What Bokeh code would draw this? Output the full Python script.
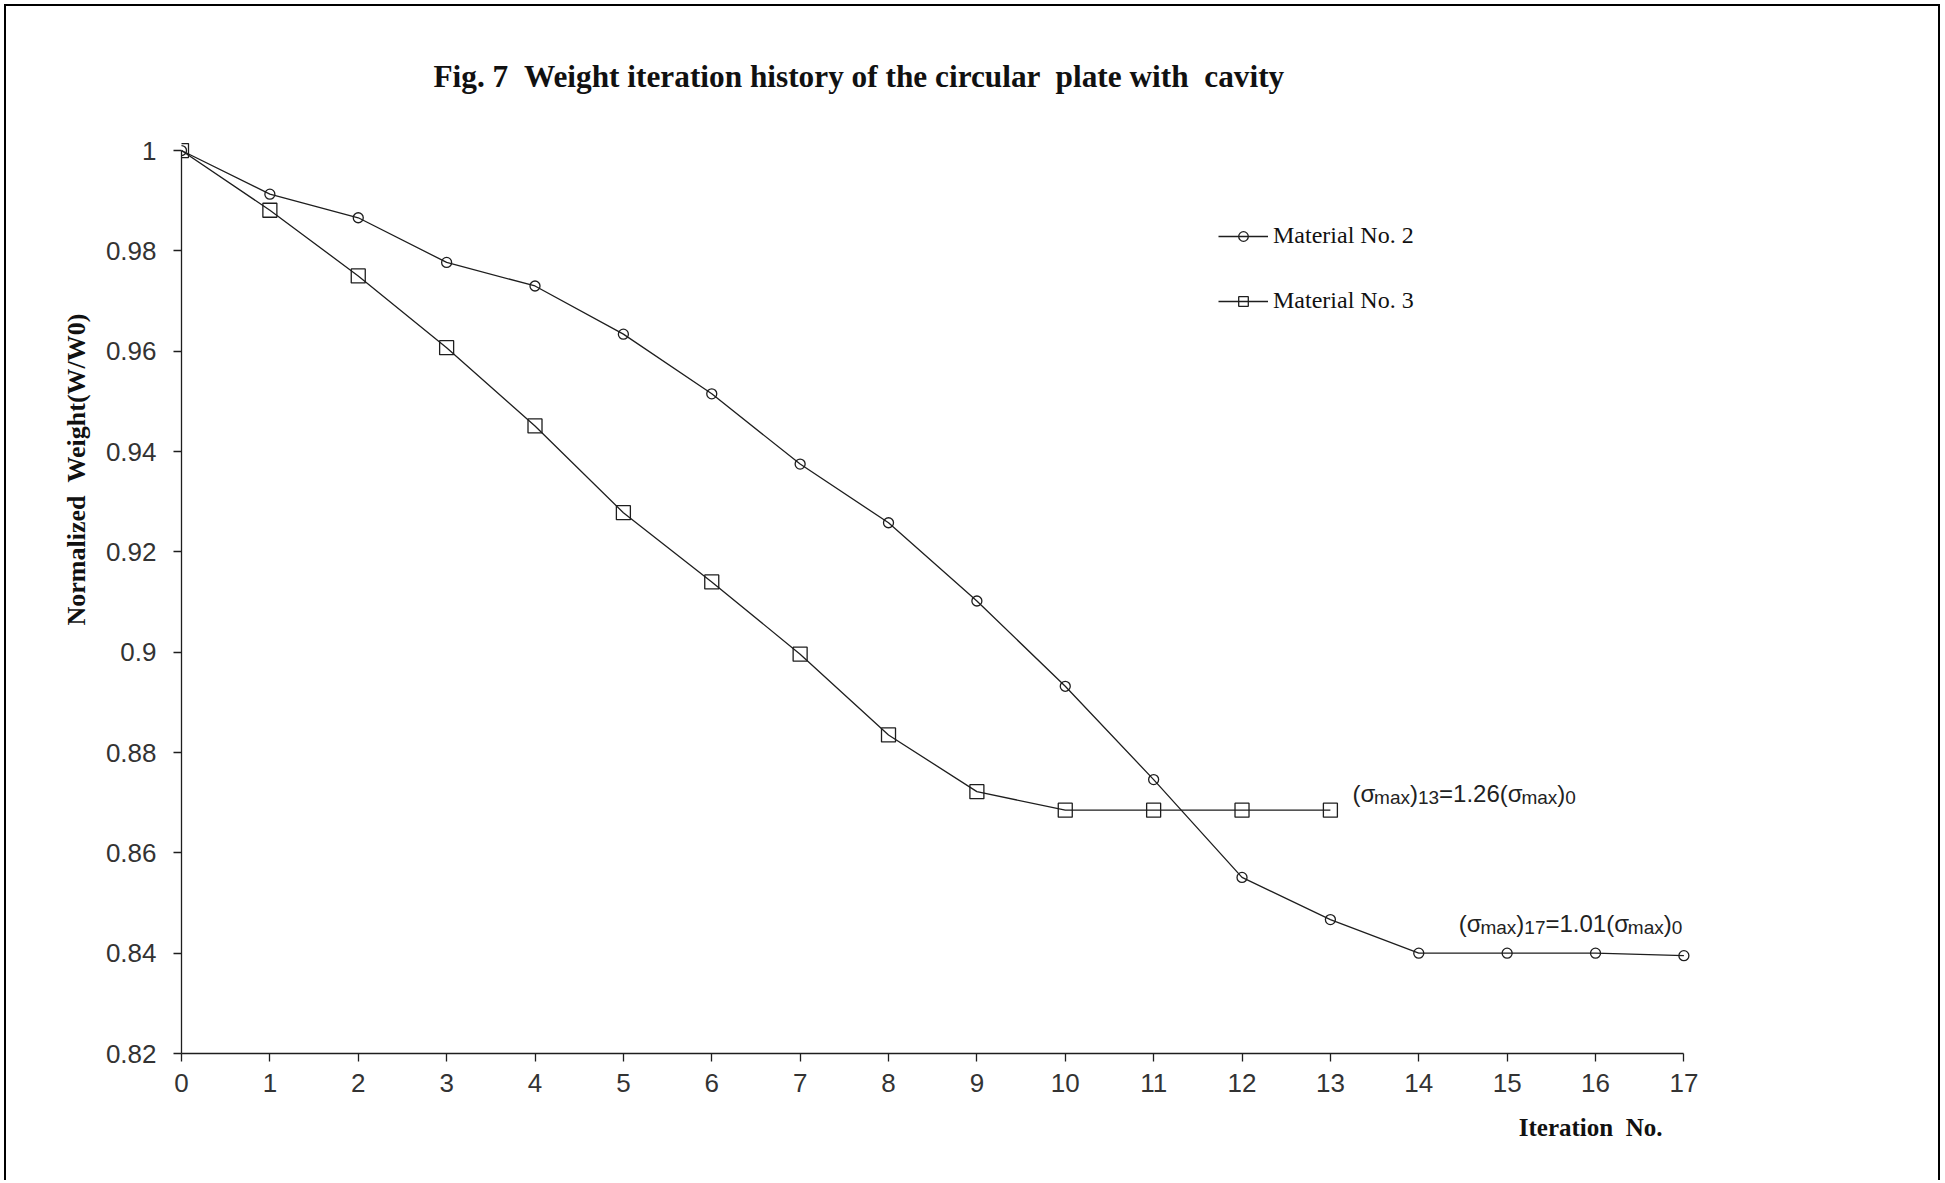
import math
from bokeh.plotting import figure
from bokeh.models import Range1d, Label, Legend, LegendItem, FixedTicker, Title
from bokeh.embed import file_html
from bokeh.resources import INLINE

# ---------------- data ----------------
iter_m2 = list(range(18))
weight_m2 = [1.0, 0.9913, 0.9866, 0.9777, 0.9730, 0.9634, 0.9515, 0.9375, 0.9258,
             0.9102, 0.8932, 0.8746, 0.8551, 0.8467, 0.8400, 0.8400, 0.8400, 0.8395]
iter_m3 = list(range(14))
weight_m3 = [1.0, 0.9881, 0.9750, 0.9607, 0.9451, 0.9278, 0.9140, 0.8996, 0.8835,
             0.8722, 0.8685, 0.8685, 0.8685, 0.8685]
x_ticks = list(range(18))
y_ticks = [0.82, 0.84, 0.86, 0.88, 0.9, 0.92, 0.94, 0.96, 0.98, 1.0]
y_tick_labels = ["0.82", "0.84", "0.86", "0.88", "0.9", "0.92", "0.94", "0.96", "0.98", "1"]
series_names = ["Material No. 2", "Material No. 3"]
NB = "\u00a0"
title_text = "Fig. 7 " + NB + "Weight iteration history of the circular " + NB + "plate with " + NB + "cavity"
x_label = "Iteration " + NB + "No."
y_label = "Normalized " + NB + "Weight(W/W0)"

INK = "#1e1e1e"
SANS = "Liberation Sans"
SERIF = "Liberation Serif"

p = figure(width=1936, height=1176, output_backend="svg", toolbar_location=None,
           x_range=Range1d(0, 17.12), y_range=Range1d(0.82, 1.002),
           min_border_left=175, min_border_right=248, min_border_top=134, min_border_bottom=129)
p.styles = {"margin-left": "4px", "margin-top": "4px",
            "border-style": "solid solid none solid", "border-width": "2px",
            "border-color": "#000000"}
p.background_fill_color = "white"
p.border_fill_color = "white"
p.outline_line_color = None
p.xgrid.visible = False
p.ygrid.visible = False

# axes
p.xaxis.ticker = FixedTicker(ticks=x_ticks)
p.xaxis.bounds = (0, 17)
p.yaxis.ticker = FixedTicker(ticks=y_ticks)
p.yaxis.major_label_overrides = {t: l for t, l in zip(y_ticks, y_tick_labels)}
p.yaxis.bounds = (0.82, 1.0)
for ax in (p.xaxis[0], p.yaxis[0]):
    ax.axis_line_color = INK
    ax.axis_line_width = 1.3
    ax.major_tick_line_color = INK
    ax.major_tick_line_width = 1.3
    ax.major_tick_in = 0
    ax.major_tick_out = 8
    ax.minor_tick_line_color = None
    ax.major_label_text_font = SANS
    ax.major_label_text_font_size = "26px"
    ax.major_label_text_color = "#333333"
p.xaxis.major_label_standoff = 12
p.yaxis.major_label_standoff = 17

# series
r2l = p.line(iter_m2, weight_m2, line_color=INK, line_width=1.3)
r2m = p.scatter(iter_m2, weight_m2, marker="circle", size=10, fill_color=None,
                line_color=INK, line_width=1.3)
r3l = p.line(iter_m3, weight_m3, line_color=INK, line_width=1.3)
r3m = p.scatter(iter_m3, weight_m3, marker="square", size=14, fill_color=None,
                line_color=INK, line_width=1.3)

legend = Legend(items=[LegendItem(label=series_names[0], renderers=[r2l, r2m]),
                       LegendItem(label=series_names[1], renderers=[r3l, r3m])],
                location=(1037, 739), orientation="vertical",
                glyph_width=50, glyph_height=24, label_height=24, spacing=38,
                label_standoff=5, padding=0, margin=0,
                label_text_font=SERIF, label_text_font_size="24px",
                label_text_color="#111111",
                border_line_color=None, background_fill_alpha=0)
p.add_layout(legend, "center")

# titles
p.add_layout(Title(text=title_text, align="left", offset=252, standoff=94,
                   text_font=SERIF, text_font_style="bold", text_font_size="31.3px",
                   text_color="#111111"), "above")
p.add_layout(Title(text=x_label, align="right", offset=32, standoff=34,
                   text_font=SERIF, text_font_style="bold", text_font_size="25px",
                   text_color="#111111"), "below")
p.add_layout(Title(text=y_label, align="right", offset=173, standoff=24,
                   text_font=SERIF, text_font_style="bold", text_font_size="26px",
                   text_color="#111111"), "left")

# stress annotations with subscripts, built from pieces
W = {"(": 0.333, ")": 0.333, "σ": 0.57, "m": 0.833, "a": 0.556, "x": 0.5,
     ".": 0.278, "=": 0.584}
def width(s, size):
    return sum(W.get(c, 0.556) for c in s) * size

MAIN, SUB = 24, 19
def annotate(xd, yd, x0, main_dy, sub_dy, iter_no, ratio):
    pieces = [("(σ", False), ("max", True), (")", False), (iter_no, True),
              ("=" + ratio + "(σ", False), ("max", True), (")", False), ("0", True)]
    xo = x0
    for txt, is_sub in pieces:
        size = SUB if is_sub else MAIN
        p.add_layout(Label(x=xd, y=yd, x_offset=xo, y_offset=sub_dy if is_sub else main_dy,
                           text=txt, text_font=SANS, text_font_size=f"{size}px",
                           text_color="#222222", text_align="left",
                           text_baseline="alphabetic"))
        xo += width(txt, size)

annotate(iter_m3[13], weight_m3[13], 22, 17, 13, "13", "1.26")
annotate(iter_m2[14], weight_m2[14], 40, 30, 26, "17", "1.01")

open("out.html", "w").write(file_html(p, INLINE))
